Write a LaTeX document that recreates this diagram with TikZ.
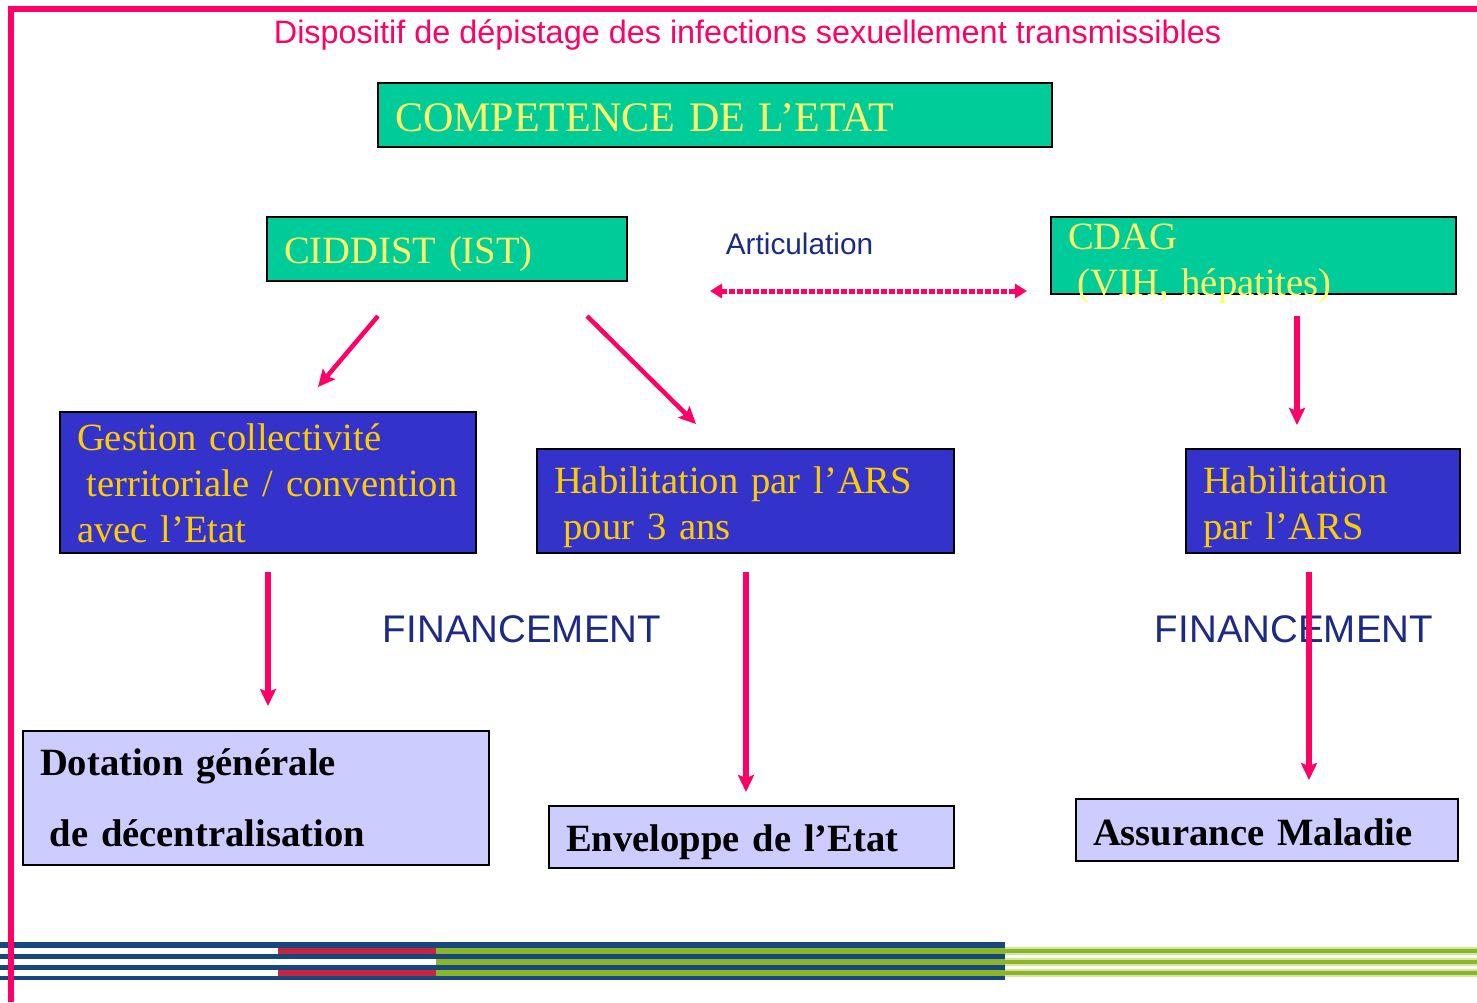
\documentclass[tikz,border=0pt]{standalone}
\usepackage{fontspec}
\setmainfont{Liberation Serif}
\setsansfont{Liberation Sans}
\usetikzlibrary{arrows.meta}
\definecolor{pinkline}{HTML}{FF0066}
\definecolor{cidgreen}{HTML}{00CC99}
\definecolor{paleyellow}{HTML}{FFFF66}
\definecolor{habblue}{HTML}{3333CC}
\definecolor{goldtext}{HTML}{FFCC00}
\definecolor{lavender}{HTML}{CCCCFF}
\definecolor{navytext}{HTML}{1C2A86}
\definecolor{stripeblue}{HTML}{16477F}
\definecolor{stripered}{HTML}{C6243F}
\definecolor{stripegreen}{HTML}{8BB628}
\definecolor{palegreen}{HTML}{D3E69F}
\tikzset{
  box/.style={draw=black, line width=0.75pt, inner xsep=8.5pt, inner ysep=0pt, align=left, font=\fontsize{19.3}{23}\selectfont},
  greenbox/.style={box, fill=cidgreen, text=paleyellow, text width=#1},
  bluebox/.style={box, fill=habblue, text=goldtext, text width=#1},
  lightbox/.style={box, fill=lavender, text=black, text width=#1, font=\fontsize{19.3}{23}\selectfont\bfseries},
  flowarrow/.style={draw=pinkline, line width=2.75pt, -{Stealth[length=8.5pt,width=8pt,inset=1.5pt]}},
  sanslabel/.style={text=navytext, inner sep=0pt, font=\sffamily\fontsize{19.25}{23}\selectfont},
}
\begin{document}
\begin{tikzpicture}[x=0.5pt, y=-0.5pt]
\useasboundingbox (0,0) rectangle (1477,1002);
\fill[stripeblue] (0,942) rectangle (1005,980);
\foreach \y in {948,970} {
  \fill[white] (0,\y) rectangle (278,\y+5.5);
  \fill[stripered] (278,\y) rectangle (436,\y+5.5);
}
\fill[white] (0,959) rectangle (436,964.5);
\foreach \y in {948,959,970} {
  \fill[stripegreen] (436,\y) rectangle (1005,\y+5.5);
  \fill[palegreen] (1005,\y-1) rectangle (1477,\y+6.5);
  \fill[stripegreen] (1005,\y+0.5) rectangle (1477,\y+5);
}
\draw[pinkline, line width=3pt] (10.5,1002) -- (10.5,8.5) -- (1477,8.5);
\node[text=pinkline, anchor=base, inner sep=0pt, font=\sffamily\fontsize{16.2}{19}\selectfont] (titre) at (747.5,43) {Dispositif de dépistage des infections sexuellement transmissibles};
\node[greenbox=320pt, minimum height=32pt, text height=23.5pt, text depth=7.5pt, font=\fontsize{21}{25}\selectfont] (etat) at (715,115) {COMPETENCE DE L’ETAT};
\node[greenbox=163pt, minimum height=32pt, text height=22.5pt, text depth=8.5pt] (ciddist) at (447,249) {CIDDIST (IST)};
\node[greenbox=185.5pt, minimum height=38.5pt, text height=15.5pt, text depth=22pt] (cdag) at (1253.5,255.5) {CDAG\\\hspace*{0.25em}(VIH, hépatites)};
\node[bluebox=191pt, minimum height=70.5pt, text height=18.5pt, text depth=51pt] (gestion) at (268,482.5) {Gestion collectivité\\\hspace*{0.25em}territoriale / convention\\avec l’Etat};
\node[bluebox=191.5pt, minimum height=52pt, text height=21.5pt, text depth=29.5pt] (habars) at (745.5,501) {Habilitation par l’ARS\\\hspace*{0.25em}pour 3 ans};
\node[bluebox=120pt, minimum height=52pt, text height=21.5pt, text depth=29.5pt] (habcdag) at (1323,501) {Habilitation\\par l’ARS};
\node[lightbox=216pt, minimum height=67pt, text height=21.5pt, text depth=44.5pt] (dotation) at (256,798) {Dotation générale\\[12.5pt]\hspace*{0.25em}de décentralisation};
\node[lightbox=185.5pt, minimum height=31pt, text height=22pt, text depth=8pt] (enveloppe) at (751.5,837) {Enveloppe de l’Etat};
\node[lightbox=174pt, minimum height=31pt, text height=22.5pt, text depth=7.5pt] (assurance) at (1267,830) {Assurance Maladie};
\node[sanslabel, font=\sffamily\fontsize{14.9}{18}\selectfont] (artic) at (799.5,244) {Articulation};
\node[sanslabel] (finl) at (522,629) {FINANCEMENT};
\node[sanslabel] (finr) at (1294,629) {FINANCEMENT};
\coordinate (cidl) at (378,316);
\coordinate (gesttop) at (318,387);
\coordinate (cidr) at (587,316);
\coordinate (habtop) at (696,424);
\coordinate (artl) at (710,291);
\coordinate (artr) at (1027,291);
\coordinate (cdagbot) at (1297,316);
\coordinate (habcdagtop) at (1297,425);
\coordinate (gestbot) at (268,572);
\coordinate (dottop) at (268,706);
\coordinate (habbot) at (746,572);
\coordinate (envtop) at (746,792);
\coordinate (habcdagbot) at (1309,572);
\coordinate (assutop) at (1309,780);
\draw[flowarrow, line width=2.25pt] (cidl) -- (gesttop);
\draw[flowarrow, line width=2.25pt] (cidr) -- (habtop);
\draw[pinkline, line width=2.5pt, dash pattern=on 3pt off 1pt, {Triangle[length=6pt,width=7pt]}-{Triangle[length=6pt,width=7pt]}] (artl) -- (artr);
\draw[flowarrow] (cdagbot) -- (habcdagtop);
\draw[flowarrow] (gestbot) -- (dottop);
\draw[flowarrow] (habbot) -- (envtop);
\draw[flowarrow] (habcdagbot) -- (assutop);
\end{tikzpicture}
\end{document}
